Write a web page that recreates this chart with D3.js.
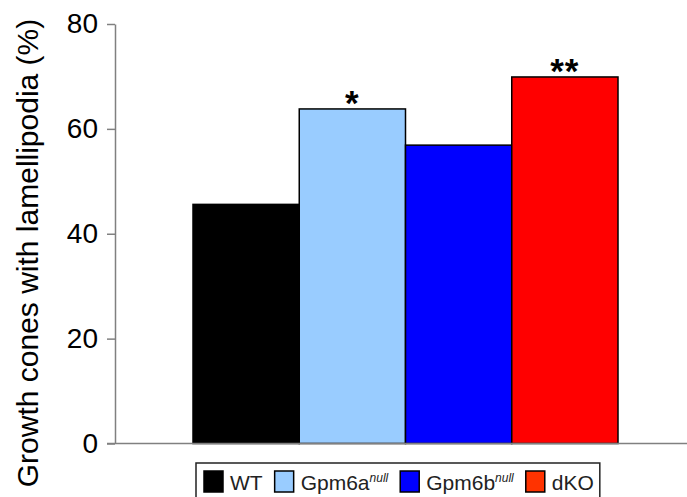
<!DOCTYPE html>
<html>
<head>
<meta charset="utf-8">
<script src="https://cdn.jsdelivr.net/npm/d3@7"></script>
<style>
  html, body { margin: 0; padding: 0; background: #fff; }
  svg { display: block; font-family: "Liberation Sans", Arial, sans-serif; }
</style>
</head>
<body>
<svg id="chart" width="687" height="497"></svg>
<script>
// Share of growth cones with lamellipodia per genotype
const categories = ["WT", "Gpm6a", "Gpm6b", "dKO"];
const superscripts = ["", "null", "null", ""];
const values = [45.6, 63.8, 56.9, 69.9];
const significance = ["", "*", "", "**"];
const barColors = ["#000000", "#99ccff", "#0000ff", "#ff0000"];
const legendColors = ["#000000", "#99ccff", "#0000ff", "#ff3300"];
const yTicks = [0, 20, 40, 60, 80];
const yTitle = "Growth cones with lamellipodia (%)";

const svg = d3.select("#chart");
const axisX = 115, plotRight = 687, plotTop = 24, plotBottom = 443.5;

const y = d3.scaleLinear().domain([0, 80]).range([plotBottom, plotTop]);
const x = d3.scaleBand().domain(categories).range([193, 618]).padding(0);

// bars
svg.append("g").selectAll("rect")
  .data(categories)
  .join("rect")
  .attr("x", d => x(d))
  .attr("y", (d, i) => y(values[i]))
  .attr("width", x.bandwidth())
  .attr("height", (d, i) => y(0) - y(values[i]))
  .attr("fill", (d, i) => barColors[i])
  .attr("stroke", "#000")
  .attr("stroke-width", 1.5);

// significance marks
svg.append("g").selectAll("text")
  .data(categories)
  .join("text")
  .attr("x", d => x(d) + x.bandwidth() / 2)
  .attr("y", (d, i) => y(values[i]) + 6)
  .attr("text-anchor", "middle")
  .attr("font-size", 35)
  .attr("font-weight", "bold")
  .attr("letter-spacing", 1)
  .attr("fill", "#000")
  .text((d, i) => significance[i]);

// y axis
const yAxis = d3.axisLeft(y).tickValues(yTicks).tickSize(8).tickSizeOuter(0).tickPadding(9);
const gy = svg.append("g").attr("transform", `translate(${axisX},0)`).call(yAxis);
gy.select(".domain").attr("stroke", "#808080").attr("stroke-width", 1.5);
gy.selectAll(".tick line").attr("stroke", "#808080").attr("stroke-width", 1.5);
gy.selectAll(".tick text").attr("font-size", 28).attr("fill", "#000")
  .attr("font-family", "Liberation Sans, Arial, sans-serif");

// x axis baseline
svg.append("line")
  .attr("x1", axisX - 8).attr("x2", plotRight)
  .attr("y1", y(0)).attr("y2", y(0))
  .attr("stroke", "#808080").attr("stroke-width", 1.5);

// y title
svg.append("text")
  .attr("transform", "translate(38,253) rotate(-90)")
  .attr("text-anchor", "middle")
  .attr("font-size", 30)
  .attr("fill", "#000")
  .text(yTitle);

// legend
const legend = svg.append("g");
const legendBox = legend.append("rect")
  .attr("x", 196).attr("y", 463)
  .attr("height", 50)
  .attr("fill", "#fff").attr("stroke", "#222").attr("stroke-width", 1.5);

let cx = 204;
categories.forEach((c, i) => {
  legend.append("rect")
    .attr("x", cx).attr("y", 471)
    .attr("width", 19).attr("height", 21)
    .attr("fill", legendColors[i])
    .attr("stroke", "#000").attr("stroke-width", 1.5);
  cx += 26;
  const t = legend.append("text")
    .attr("x", cx).attr("y", 490)
    .attr("font-size", 21)
    .attr("fill", "#222");
  t.append("tspan").text(c);
  if (superscripts[i]) {
    t.append("tspan")
      .attr("font-size", 12)
      .attr("font-style", "italic")
      .attr("dy", -8)
      .text(superscripts[i]);
  }
  cx += t.node().getComputedTextLength() + (i < categories.length - 1 ? 12 : 6);
});
legendBox.attr("width", cx - 196);
</script>
</body>
</html>
